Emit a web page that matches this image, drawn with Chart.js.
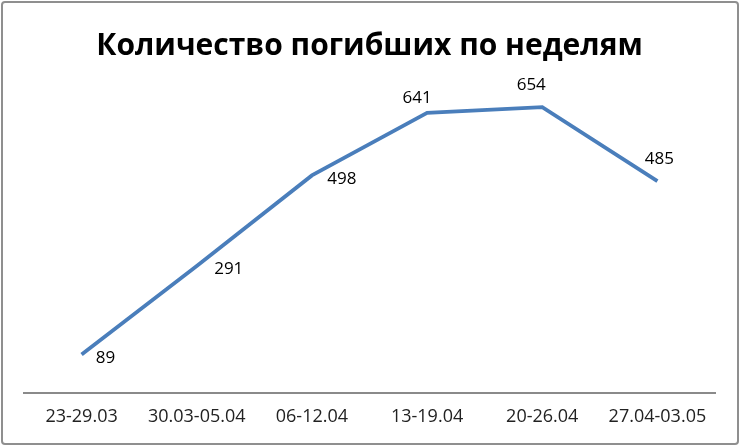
<!DOCTYPE html>
<html><head><meta charset="utf-8">
<script src="https://cdn.jsdelivr.net/npm/chart.js@4/dist/chart.umd.min.js"></script>
<style>
html,body{margin:0;padding:0;background:#fff;}
#wrap{position:absolute;left:1px;top:1px;width:734px;height:440px;border:2px solid #8f8f8f;border-radius:4px;}
#c{position:absolute;left:0;top:0;}
</style></head>
<body>
<div id="wrap"></div>
<canvas id="c" width="740" height="446"></canvas>
<script>
const categories = ["23-29.03","30.03-05.04","06-12.04","13-19.04","20-26.04","27.04-03.05"];
const deaths = [89, 291, 498, 641, 654, 485];
const titleText = "Количество погибших по неделям";
// label offsets relative to point (px)
const labelOffsetX = [24, 32, 30, -10, -11, 2];
const labelOffsetY = [4, 3, 4, -15, -22, -22];

const labelPlugin = {
  id: 'pointLabels',
  afterDatasetsDraw(chart) {
    const ctx = chart.ctx;
    const meta = chart.getDatasetMeta(0);
    ctx.save();
    ctx.font = '17px "Open Sans"';
    ctx.fillStyle = '#000';
    ctx.textAlign = 'center';
    ctx.textBaseline = 'middle';
    meta.data.forEach((pt, i) => {
      ctx.fillText(String(deaths[i]), pt.x + labelOffsetX[i], pt.y + labelOffsetY[i]);
    });
    ctx.restore();
  }
};

new Chart(document.getElementById('c'), {
  type: 'line',
  data: {
    labels: categories,
    datasets: [{
      data: deaths,
      borderColor: '#4A7EBB',
      borderWidth: 3.8,
      pointRadius: 0,
      tension: 0,
      fill: false
    }]
  },
  options: {
    responsive: false,
    animation: false,
    layout: { padding: { left: 24, right: 25, top: 0, bottom: 5 } },
    plugins: {
      legend: { display: false },
      tooltip: { enabled: false },
      title: {
        display: true,
        text: titleText,
        color: '#000',
        font: { family: '"Open Sans"', size: 30, weight: 'bold' },
        padding: { top: 28, bottom: 23 }
      }
    },
    scales: {
      x: {
        offset: true,
        grid: { display: false, drawTicks: false },
        border: { display: true, color: '#8a8a8a', width: 2 },
        ticks: { color: '#222', font: { family: '"Open Sans"', size: 18 }, padding: 13, maxRotation: 0, autoSkip: false }
      },
      y: {
        display: false,
        min: 0,
        max: 700
      }
    }
  },
  plugins: [labelPlugin]
});
</script>
</body></html>
